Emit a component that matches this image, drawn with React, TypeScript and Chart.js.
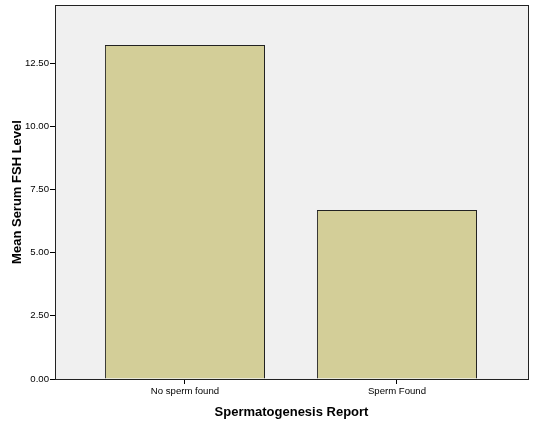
import React, { useEffect, useRef } from "react";
import { Chart, registerables } from "chart.js";

Chart.register(...registerables);

const categories = ["No sperm found", "Sperm Found"];
const meanFSH = [13.22, 6.69];
const yTickValues = [0, 2.5, 5, 7.5, 10, 12.5];
const yMax = 14.8;

const plotFrame = {
  id: "plotFrame",
  beforeDatasetsDraw(chart: any) {
    const { ctx, chartArea } = chart;
    ctx.save();
    ctx.fillStyle = "#F0F0F0";
    ctx.fillRect(chartArea.left, chartArea.top, chartArea.right - chartArea.left, chartArea.bottom - chartArea.top);
    ctx.restore();
  },
  afterDraw(chart: any) {
    const { ctx, chartArea } = chart;
    ctx.save();
    ctx.strokeStyle = "#222";
    ctx.lineWidth = 1;
    ctx.strokeRect(
      Math.round(chartArea.left) + 0.5,
      Math.round(chartArea.top) + 0.5,
      Math.round(chartArea.right - chartArea.left),
      Math.round(chartArea.bottom - chartArea.top)
    );
    ctx.restore();
  },
};

export default function App() {
  const ref = useRef<HTMLCanvasElement>(null);
  useEffect(() => {
    document.body.style.margin = "0";
    const chart = new Chart(ref.current!, {
      type: "bar",
      data: {
        datasets: [
          {
            data: categories.map((_, i) => ({ x: i, y: meanFSH[i] })),
            backgroundColor: "#D3CE98",
            borderColor: "#222",
            borderWidth: 1,
            borderSkipped: "start",
            categoryPercentage: 1,
            barPercentage: 0.755,
          },
        ],
      },
      plugins: [plotFrame],
      options: {
        animation: false,
        responsive: false,
        layout: { padding: { top: 5, right: 19, left: 0, bottom: 0 } },
        plugins: { legend: { display: false }, tooltip: { enabled: false } },
        scales: {
          x: {
            type: "linear",
            offset: false,
            min: -0.613,
            max: 1.618,
            afterBuildTicks: (s: any) => {
              s.ticks = categories.map((_, i) => ({ value: i }));
            },
            afterFit: (s: any) => {
              s.height = 51;
              s.paddingLeft = 0;
              s.paddingRight = 0;
            },
            ticks: {
              callback: (v: any) => categories[v as number] ?? "",
              color: "#000",
              font: { family: "Liberation Sans, Arial", size: 9.6 },
              padding: 2,
              maxRotation: 0,
              autoSkip: false,
            },
            grid: { drawOnChartArea: false, offset: false, tickLength: 5, color: "#000" },
            border: { display: false },
            title: {
              display: true,
              text: "Spermatogenesis Report",
              color: "#000",
              font: { family: "Liberation Sans, Arial", size: 13, weight: "bold" },
              padding: { top: 4, bottom: 10 },
            },
          },
          y: {
            min: 0,
            max: yMax,
            afterBuildTicks: (s: any) => {
              s.ticks = yTickValues.map((v) => ({ value: v }));
            },
            afterFit: (s: any) => {
              s.width = 55;
              s.paddingTop = 0;
              s.paddingBottom = 0;
            },
            ticks: {
              callback: (v: any) => Number(v).toFixed(2),
              color: "#000",
              font: { family: "Liberation Sans, Arial", size: 9.6 },
              padding: 1,
            },
            grid: { drawOnChartArea: false, tickLength: 5, color: "#000" },
            border: { display: false },
            title: {
              display: true,
              text: "Mean Serum FSH Level",
              color: "#000",
              font: { family: "Liberation Sans, Arial", size: 13, weight: "bold" },
              padding: { top: 10, bottom: 4 },
            },
          },
        },
      },
    });
    return () => chart.destroy();
  }, []);
  return (
    <div style={{ width: 547, height: 430 }}>
      <canvas ref={ref} width={547} height={430} />
    </div>
  );
}
